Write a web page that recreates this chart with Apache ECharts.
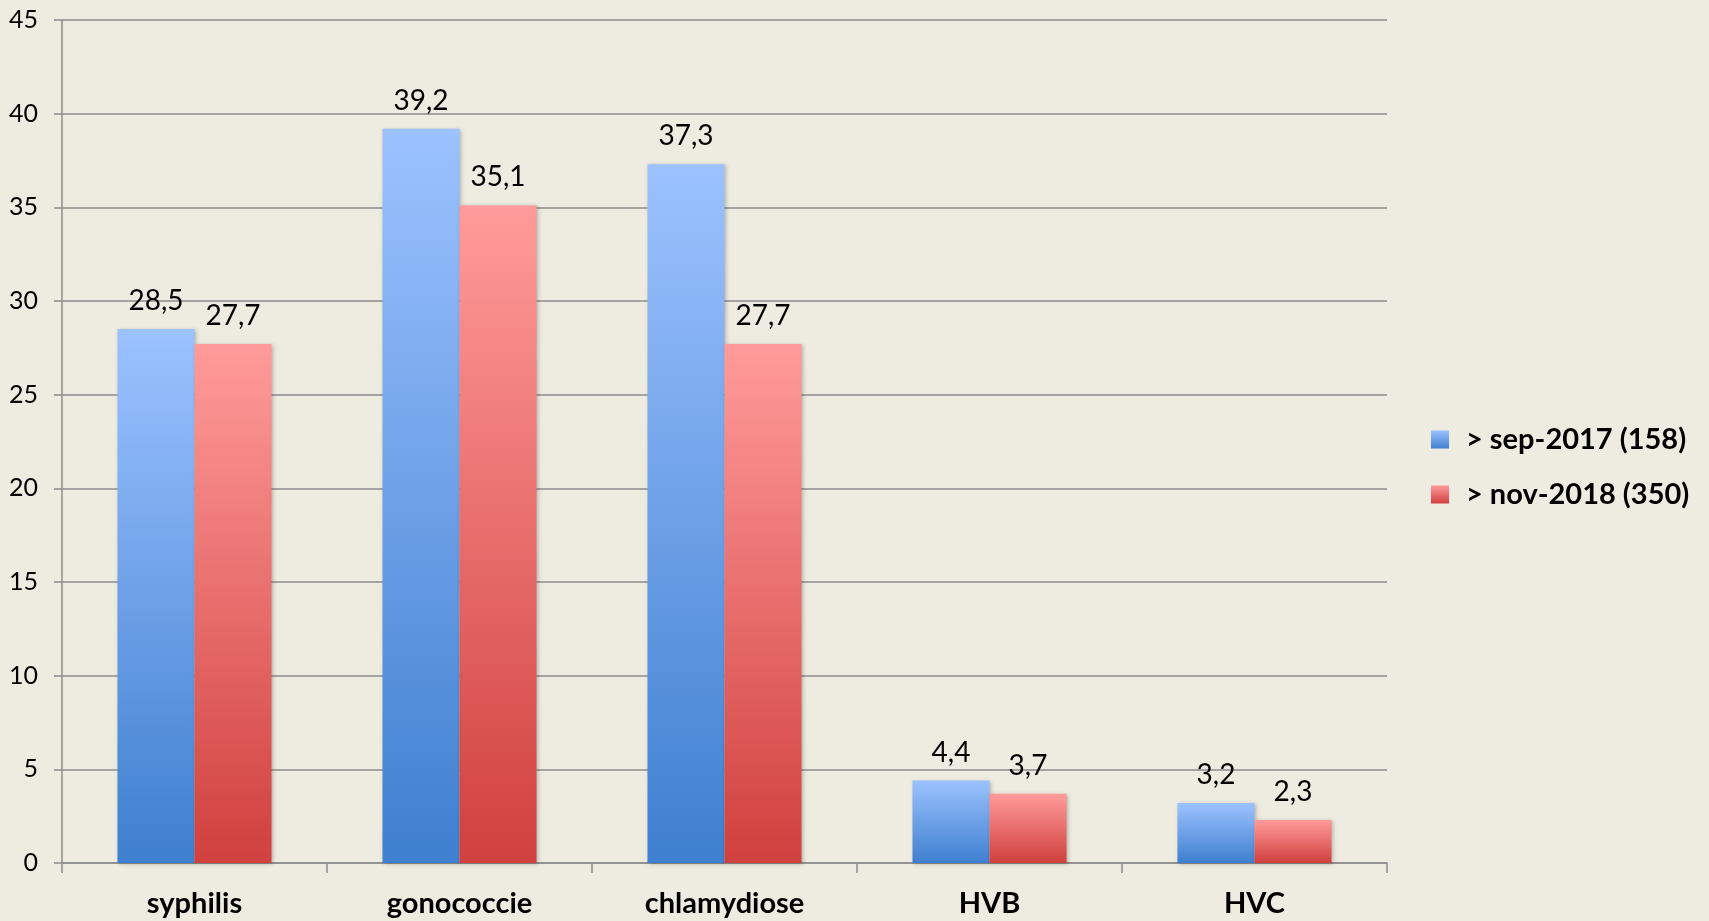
<!DOCTYPE html>
<html>
<head>
<meta charset="utf-8">
<script src="https://cdn.jsdelivr.net/npm/echarts@6/dist/echarts.min.js"></script>
<style>
  html, body { margin: 0; padding: 0; background: #eeebe0; }
  #main { width: 1709px; height: 921px; }
</style>
</head>
<body>
<div id="main"></div>
<script>
// données
const categories = ['syphilis', 'gonococcie', 'chlamydiose', 'HVB', 'HVC']
const sep2017 = [28.5, 39.2, 37.3, 4.4, 3.2]
const nov2018 = [27.7, 35.1, 27.7, 3.7, 2.3]
const seriesNames = ['> sep-2017 (158)', '> nov-2018 (350)']

const font = 'Lato, "Open Sans", sans-serif'
const gridColor = '#8c8c8c'

function grad (top, bottom) {
  return new echarts.graphic.LinearGradient(0, 0, 0, 1, [
    { offset: 0, color: top },
    { offset: 1, color: bottom }
  ])
}

function barSeries (name, data, top, bottom) {
  return {
    name: name,
    type: 'bar',
    data: data,
    barWidth: 77,
    barGap: '0%',
    itemStyle: {
      color: grad(top, bottom),
      shadowColor: 'rgba(0,0,0,0.25)',
      shadowBlur: 4,
      shadowOffsetX: 1,
      shadowOffsetY: 1
    },
    label: {
      show: true,
      position: 'top',
      distance: 14,
      fontFamily: font,
      fontSize: 28,
      color: '#000',
      formatter: p => String(p.value).replace('.', ',')
    }
  }
}

const myChart = echarts.init(document.getElementById('main'))
myChart.setOption({
  backgroundColor: '#eeebe0',
  animation: false,
  grid: {
    left: 62,
    right: 322,
    top: 20,
    bottom: 58
  },
  legend: {
    orient: 'vertical',
    left: 1426,
    top: 420,
    itemWidth: 18,
    itemHeight: 18,
    itemGap: 26,
    icon: 'rect',
    textStyle: {
      fontFamily: font,
      fontSize: 29,
      fontWeight: 'bold',
      color: '#000',
      padding: [0, 0, 0, 12]
    },
    data: seriesNames
  },
  xAxis: {
    type: 'category',
    data: categories,
    axisLine: { lineStyle: { color: gridColor, width: 1.5 } },
    axisTick: { show: true, length: 10, lineStyle: { color: gridColor, width: 1.5 } },
    axisLabel: {
      fontFamily: font,
      fontSize: 29,
      fontWeight: 'bold',
      color: '#000',
      margin: 26
    }
  },
  yAxis: {
    type: 'value',
    min: 0,
    max: 45,
    interval: 5,
    axisLine: { show: true, lineStyle: { color: gridColor, width: 1.5 } },
    axisTick: { show: true, length: 8, lineStyle: { color: gridColor, width: 1.5 } },
    splitLine: { lineStyle: { color: gridColor, width: 1.5 } },
    axisLabel: {
      fontFamily: font,
      fontSize: 25,
      color: '#000',
      margin: 24
    }
  },
  series: [
    barSeries(seriesNames[0], sep2017, '#9cc2ff', '#3e7fcf'),
    barSeries(seriesNames[1], nov2018, '#ff9b9a', '#d0403e')
  ]
})
</script>
</body>
</html>
